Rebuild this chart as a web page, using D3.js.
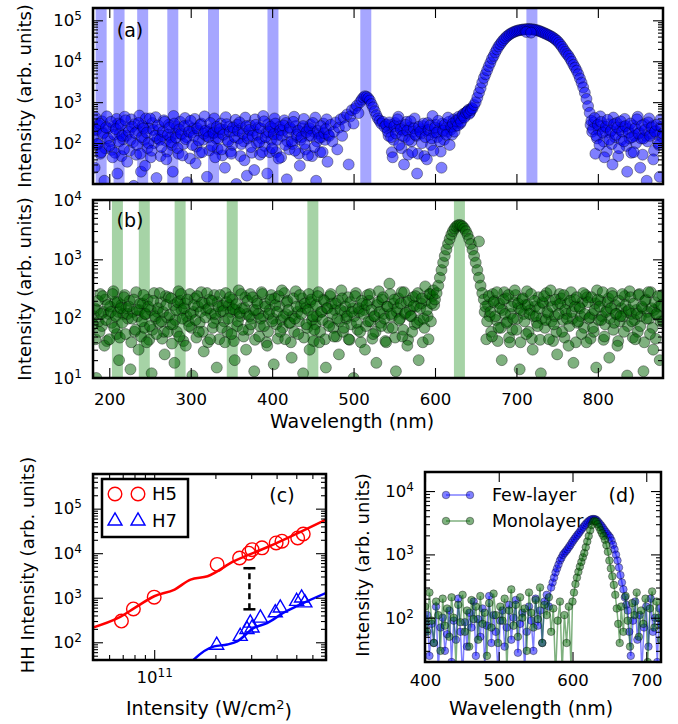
<!DOCTYPE html>
<html>
<head>
<meta charset="utf-8">
<script src="https://cdn.jsdelivr.net/npm/d3@7"></script>
<style>
body { margin: 0; background: #fff; }
</style>
</head>
<body>
<script>
// ---- data ----
// (a) harmonic positions of the 3.6 um driver, (b) of the 3.15 um driver (nm)
var bandsA = [190, 212, 241, 278, 328, 401, 515, 719];
var bandsB = [210, 243, 287, 351, 450, 630];
var bandWidth = 13.5;

// (a) few-layer spectrum [wavelength nm, counts]
var spectrumA = [
[180,140],[182,25],[184,210],[186,95],[188,300],[190,60],[192,170],[194,12],[196,240],[198,130],
[200,85],[202,330],[204,45],[206,160],[208,220],[210,18],[212,110],[214,280],[216,150],[218,70],
[220,360],[222,35],[224,190],[226,120],[228,250],[230,9],[232,175],[234,90],[236,310],[238,55],
[240,140],[242,230],[244,28],[246,180],[248,100],[250,400],[252,65],[254,210],[256,150],[258,14],
[260,270],[262,120],[264,80],[266,190],[268,330],[270,40],[272,160],[274,240],[276,105],[278,20],
[280,300],[282,135],[284,75],[286,215],[288,170],[290,50],[292,260],[294,125],[296,11],[298,190],
[300,350],[302,90],[304,150],[306,32],[308,230],[310,115],[312,280],[314,60],[316,170],[318,200],
[320,15],[322,140],[324,310],[326,85],[328,180],[330,45],[332,250],[334,130],[336,220],[338,70],
[340,160],[342,25],[344,290],[346,110],[348,190],[350,55],[352,240],[354,140],[356,10],[358,200],
[360,320],[362,95],[364,170],[366,38],[368,260],[370,130],[372,210],[374,80],[376,150],[378,22],
[380,280],[382,160],[384,105],[386,230],[388,60],[390,340],[392,140],[394,18],[396,190],[398,250],
[400,75],[402,165],[404,300],[406,120],[408,42],[410,210],[412,150],[414,270],[416,90],[418,13],
[420,180],[422,240],[424,110],[426,330],[428,65],[430,160],[432,200],[434,28],[436,140],[438,260],
[440,95],[442,185],[444,50],[446,230],[448,150],[450,310],[452,80],[454,12],[456,200],[458,135],
[460,260],[462,60],[464,175],[466,220],[468,35],[470,150],[472,280],[474,110],[476,190],[478,320],
[480,70],[482,240],[484,380],[486,150],[488,420],[490,260],[492,500],[494,30],[496,450],[498,640],
[500,300],[502,700],[504,820],[506,540],[508,1000],[510,1150],[512,1300],[514,1400],[516,1350],[518,1250],
[520,1100],[522,900],[524,750],[526,600],[528,480],[530,400],[532,350],[534,300],[536,330],[538,250],
[540,280],[542,190],[544,320],[546,140],[548,45],[550,260],[552,170],[554,380],[556,90],[558,220],
[560,150],[562,30],[564,280],[566,200],[568,120],[570,340],[572,60],[574,230],[576,160],[578,18],
[580,250],[582,190],[584,100],[586,300],[588,140],[590,40],[592,210],[594,270],[596,130],[598,65],
[600,240],[602,180],[604,350],[606,110],[608,25],[610,200],[612,280],[614,160],[616,420],[618,90],
[620,250],[622,300],[624,190],[626,350],[628,270],[630,400],[632,330],[634,480],[636,420],[638,550],
[640,600],[642,520],[644,640],[646,700],[648,850],[650,1000],[652,1300],[654,1700],[656,2200],[658,3000],
[660,3900],[662,4800],[664,6000],[666,7500],[668,9200],[670,11500],[672,13500],[674,16500],[676,19500],[678,23000],
[680,26000],[682,29500],[684,33000],[686,36500],[688,40000],[690,43000],[692,46000],[694,48500],[696,51000],[698,53000],
[700,55000],[702,56500],[704,57500],[706,58500],[708,59500],[710,60000],[712,60500],[714,61000],[716,61000],[718,60500],
[720,60000],[722,59000],[724,58000],[726,56500],[728,55000],[730,53000],[732,51000],[734,49000],[736,47000],[738,45000],
[740,43000],[742,41000],[744,39000],[746,36500],[748,34000],[750,31500],[752,28500],[754,25500],[756,22500],[758,19500],
[760,17000],[762,15000],[764,13500],[766,11500],[768,9800],[770,8200],[772,7000],[774,5900],[776,4800],[778,3800],
[780,3000],[782,2300],[784,1700],[786,1200],[788,800],[790,550],[712,52000],[718,50000],
[792,350],[794,220],[796,410],[798,150],[800,280],[802,90],[804,330],[806,180],[808,45],[810,250],
[812,370],[814,120],[816,200],[818,30],[820,290],[822,160],[824,240],[826,75],[828,340],[830,190],
[832,110],[834,260],[836,20],[838,180],[840,300],[842,140],[844,60],[846,230],[848,380],[850,170],
[852,25],[854,270],[856,130],[858,210],[860,12],[862,320],[864,150],[866,240],[868,40],[870,190],
[872,280],[874,100],[876,15],[878,250],[880,170]
];
// (a) the pixels in between
var spectrumAOdd = [
[181,210],[183,420],[185,95],[187,270],[189,55],[191,340],[193,180],[195,75],[197,450],[199,230],
[201,110],[203,68],[205,260],[207,58],[209,390],[211,300],[213,170],[215,48],[217,125],[219,440],
[221,150],[223,240],[225,65],[227,380],[229,105],[231,290],[233,52],[235,200],[237,470],[239,20],
[241,260],[243,120],[245,400],[247,75],[249,230],[251,45],[253,310],[255,100],[257,430],[259,130],
[261,210],[263,48],[265,150],[267,360],[269,115],[271,62],[273,280],[275,140],[277,90],[279,460],
[281,170],[283,250],[285,55],[287,330],[289,160],[291,95],[293,410],[295,140],[297,270],[299,42],
[301,180],[303,230],[305,390],[307,82],[309,200],[311,58],[313,300],[315,120],[317,450],[319,150],
[321,190],[323,66],[325,220],[327,170],[329,400],[331,130],[333,72],[335,180],[337,300],[339,50],
[341,210],[343,430],[345,120],[347,250],[349,62],[351,90],[353,200],[355,370],[357,280],[359,130],
[361,48],[363,230],[365,110],[367,420],[369,16],[371,150],[373,270],[375,58],[377,200],[379,380],
[381,100],[383,240],[385,52],[387,130],[389,460],[391,85],[393,180],[395,290],[397,60],[399,120],
[401,230],[403,400],[405,60],[407,160],[409,250],[411,45],[413,200],[415,360],[417,310],[419,110],
[421,70],[423,220],[425,95],[427,440],[429,260],[431,140],[433,55],[435,120],[437,230],[439,390],
[441,70],[443,210],[445,150],[447,280],[449,48],[451,190],[453,420],[455,110],[457,170],[459,60],
[461,140],[463,300],[465,120],[467,380],[469,160],
[541,230],[543,150],[545,280],[547,60],[549,120],[551,310],[553,210],[555,440],[557,260],[559,75],
[561,200],[563,140],[565,330],[567,52],[569,240],[571,110],[573,190],[575,400],[577,150],[579,55],
[581,220],[583,170],[585,260],[587,48],[589,200],[591,310],[593,160],[595,90],[597,460],[599,180],
[601,280],[603,140],[605,220],[607,62],[609,300],[611,120],[613,230],[615,190],[617,330],[619,210],
[621,160],[623,380],[625,260],[627,320],[629,440],[631,300],[633,420],[635,520],[637,460],[639,580],
[641,650],[643,560],[645,720],
[791,280],[793,190],[795,320],[797,55],[799,130],[801,210],[803,450],[805,260],[807,110],[809,200],
[811,62],[813,290],[815,180],[817,95],[819,420],[821,140],[823,310],[825,48],[827,210],[829,120],
[831,250],[833,390],[835,85],[837,220],[839,130],[841,58],[843,270],[845,150],[847,100],[849,440],
[851,180],[853,130],[855,52],[857,290],[859,150],[861,110],[863,400],[865,170],[867,260],[869,65],
[871,200],[873,160],[875,90],[877,380],[879,140]
];

// (b) monolayer spectrum [wavelength nm, counts]
var spectrumB = [
[180,80],[182,150],[184,10],[186,200],[188,60],[190,120],[192,240],[194,35],[196,95],[198,170],
[200,45],[202,130],[204,260],[206,70],[208,110],[210,190],[212,20],[214,150],[216,85],[218,230],
[220,55],[222,120],[224,160],[226,14],[228,100],[230,210],[232,65],[234,140],[236,30],[238,180],
[240,90],[242,250],[244,120],[246,40],[248,160],[250,75],[252,12],[254,200],[256,110],[258,55],
[260,150],[262,270],[264,90],[266,130],[268,25],[270,170],[272,60],[274,115],[276,220],[278,80],
[280,18],[282,140],[284,190],[286,50],[288,260],[290,100],[292,150],[294,35],[296,210],[298,75],
[300,120],[302,11],[304,170],[306,95],[308,240],[310,60],[312,130],[314,185],[316,28],[318,105],
[320,270],[322,150],[324,45],[326,200],[328,85],[330,120],[332,15],[334,160],[336,250],[338,70],
[340,135],[342,40],[344,190],[346,100],[348,230],[350,55],[352,145],[354,20],[356,175],[358,90],
[360,125],[362,260],[364,65],[366,150],[368,30],[370,200],[372,110],[374,80],[376,230],[378,13],
[380,140],[382,180],[384,50],[386,100],[388,260],[390,75],[392,160],[394,35],[396,120],[398,210],
[400,90],[402,17],[404,170],[406,130],[408,240],[410,60],[412,300],[414,110],[416,45],[418,190],
[420,140],[422,85],[424,22],[426,220],[428,100],[430,160],[432,55],[434,250],[436,120],[438,12],
[440,180],[442,80],[444,140],[446,30],[448,210],[450,110],[452,65],[454,170],[456,240],[458,40],
[460,130],[462,95],[464,200],[466,15],[468,150],[470,75],[472,260],[474,120],[476,50],[478,180],
[480,100],[482,25],[484,140],[486,220],[488,70],[490,160],[492,110],[494,45],[496,190],[498,130],
[500,10],[502,240],[504,85],[506,150],[508,60],[510,200],[512,120],[514,30],[516,170],[518,90],
[520,260],[522,140],[524,55],[526,110],[528,18],[530,190],[532,130],[534,75],[536,230],[538,100],
[540,40],[542,160],[544,390],[546,120],[548,70],[550,210],[552,13],[554,150],[556,95],[558,180],
[560,50],[562,280],[564,125],[566,35],[568,200],[570,110],[572,60],[574,165],[576,240],[578,85],
[580,20],[582,150],[584,220],[586,100],[588,350],[590,140],[592,45],[594,260],[596,180],[598,300],
[600,210],[602,270],[604,360],[606,490],[608,660],[610,880],[612,1140],[614,1460],[616,1820],[618,2200],
[620,2600],[622,2980],[624,3300],[626,3580],[628,3740],[630,3800],[632,3740],[634,3580],[636,3300],[638,2980],
[640,2600],[642,2200],[644,1820],[646,1460],[648,1140],[650,880],[652,660],[654,490],[656,360],[658,270],
[660,210],[654,2000],
[662,160],[664,90],[666,240],[668,130],[670,50],[672,190],[674,110],[676,280],[678,70],[680,150],
[682,20],[684,210],[686,120],[688,85],[690,250],[692,40],[694,160],[696,100],[698,300],[700,65],
[702,180],[704,14],[706,140],[708,220],[710,90],[712,55],[714,170],[716,120],[718,260],[720,30],
[722,200],[724,110],[726,75],[728,150],[730,12],[732,190],[734,240],[736,95],[738,130],[740,45],
[742,300],[744,160],[746,80],[748,210],[750,25],[752,120],[754,180],[756,60],[758,250],[760,140],
[762,100],[764,35],[766,200],[768,130],[770,18],[772,160],[774,230],[776,90],[778,150],[780,55],
[782,270],[784,120],[786,40],[788,190],[790,105],[792,230],[794,70],[796,140],[798,15],[800,210],
[802,160],[804,95],[806,280],[808,50],[810,130],[812,190],[814,22],[816,150],[818,240],[820,85],
[822,120],[824,35],[826,200],[828,110],[830,260],[832,60],[834,170],[836,11],[838,140],[840,230],
[842,90],[844,180],[846,45],[848,120],[850,250],[852,75],[854,160],[856,13],[858,200],[860,100],
[862,280],[864,55],[866,150],[868,30],[870,190],[872,120],[874,240],[876,20],[878,170],[880,90]
];
// (b) the pixels in between
var spectrumBOdd = [
[181,110],[183,45],[185,140],[187,90],[189,260],[191,75],[193,130],[195,210],[197,42],[199,120],
[201,160],[203,85],[205,290],[207,190],[209,55],[211,130],[213,48],[215,170],[217,120],[219,250],
[221,150],[223,100],[225,200],[227,40],[229,130],[231,60],[233,280],[235,110],[237,140],[239,50],
[241,180],[243,70],[245,120],[247,210],[249,44],[251,140],[253,65],[255,270],[257,100],[259,130],
[261,85],[263,190],[265,46],[267,60],[269,240],[271,105],[273,230],[275,80],[277,38],[279,170],
[281,95],[283,60],[285,290],[287,200],[289,140],[291,42],[293,180],[295,110],[297,90],[299,260],
[301,70],[303,130],[305,220],[307,48],[309,160],[311,85],[313,280],[315,60],[317,180],[319,140],
[321,40],[323,210],[325,120],[327,70],[329,250],[331,100],[333,190],[335,45],[337,130],[339,165],
[341,90],[343,270],[345,60],[347,170],[349,130],[351,210],[353,42],[355,140],[357,75],[359,300],
[361,110],[363,150],[365,50],[367,230],[369,120],[371,65],[373,260],[375,100],[377,140],[379,44],
[381,200],[383,120],[385,75],[387,280],[389,110],[391,180],[393,40],[395,60],[397,140],[399,250],
[401,100],[403,220],[405,80],[407,46],[409,160],[411,95],[413,70],[415,270],[417,120],[419,200],
[421,85],[423,40],[425,110],[427,60],[429,290],[431,130],[433,90],[435,160],[437,220],[439,48],
[441,150],[443,70],[445,260],[447,190],[449,95],[451,42],[453,80],[455,110],[457,280],[459,60],
[461,130],[463,210],[465,45],[467,150],[469,85],[471,240],[473,180],[475,70],[477,140],[479,50],
[481,200],[483,90],[485,300],[487,60],[489,130],[491,100],[493,230],[495,44],[497,80],[499,150],
[501,110],[503,270],[505,65],[507,130],[509,40],[511,180],[513,140],[515,75],[517,250],[519,200],
[521,90],[523,46],[525,110],[527,60],[529,170],[531,290],[533,85],[535,210],[537,120],[539,42],
[541,160],[543,70],[545,260],[547,110],[549,180],[551,48],[553,130],[555,220],[557,100],[559,280],
[561,65],[563,120],[565,190],[567,44],[569,140],[571,110],[573,230],[575,80],[577,160],[579,270],
[581,95],[583,180],[585,40],[587,70],[589,200],[591,110],[593,260],[595,90],[597,240],[599,170],
[661,130],[663,45],[665,170],[667,110],[669,60],[671,260],[673,200],[675,95],[677,42],[679,180],
[681,70],[683,140],[685,280],[687,220],[689,90],[691,48],[693,120],[695,65],[697,190],[699,250],
[701,100],[703,150],[705,40],[707,210],[709,120],[711,170],[713,290],[715,60],[717,140],[719,46],
[721,110],[723,160],[725,85],[727,230],[729,44],[731,100],[733,180],[735,70],[737,270],[739,120],
[741,200],[743,90],[745,42],[747,110],[749,60],[751,170],[753,260],[755,220],[757,95],[759,48],
[761,120],[763,180],[765,75],[767,280],[769,100],[771,210],[773,40],[775,85],[777,160],[779,110],
[781,190],[783,70],[785,250],[787,230],[789,100],[791,46],[793,120],[795,60],[797,180],[799,300],
[801,95],[803,200],[805,110],[807,44],[809,80],[811,140],[813,220],[815,100],[817,270],[819,65],
[821,170],[823,120],[825,42],[827,90],[829,150],[831,110],[833,240],[835,130],[837,75],[839,290],
[841,120],[843,48],[845,95],[847,140],[849,60],[851,260],[853,110],[855,150],[857,40],[859,210],
[861,130],[863,100],[865,280],[867,70],[869,140],[871,46],[873,115],[875,160],[877,90],[879,250]
];

// (c) harmonic yield vs driving intensity [W/cm^2, counts]
var h5Points = [[6.9e10,300],[7.9e10,560],[1.0e11,1030],[2.04e11,5600],[2.63e11,7800],[2.92e11,10000],
  [3.03e11,12000],[3.39e11,13200],[3.98e11,17000],[4.25e11,18600],[5.08e11,22000],[5.41e11,27000]];
var h7Points = [[2.03e11,86],[2.65e11,136],[2.86e11,194],[2.97e11,270],[3.03e11,210],[3.33e11,350],
  [3.94e11,460],[4.17e11,590],[5.02e11,830],[5.31e11,990],[5.51e11,770]];
var h5Fit = [[5e10,215],[6.65e10,352],[8.02e10,590],[1.0e11,1080],[1.26e11,1530],[1.51e11,2560],
  [1.83e11,3040],[2.47e11,6610],[3.59e11,13600],[7e11,57000]];
var h7Fit = [[1.45e11,28],[1.55e11,39],[1.97e11,81],[2.29e11,89],[2.56e11,105],[3.09e11,210],
  [3.59e11,270],[4.33e11,460],[5.21e11,700],[7.03e11,1290]];
var gapBar = [2.94e11, 550, 4600];   // x, low, high

// (d) comparison [wavelength nm, counts]
var fewLayer = [
[400,60],[403,110],[406,25],[409,80],[412,40],[415,150],[418,15],[421,70],[424,100],[427,30],
[430,55],[433,130],[436,20],[439,90],[442,45],[445,200],[448,60],[451,12],[454,85],[457,35],
[460,120],[463,70],[466,180],[469,25],[472,95],[475,50],[478,140],[481,18],[484,75],[487,220],
[490,40],[493,110],[496,60],[499,14],[502,90],[505,130],[508,35],[511,70],[514,160],[517,45],
[520,100],[523,190],[526,28],[529,80],[532,120],[535,16],[538,60],[541,150],[544,90],[547,30],
[550,200],[553,75],[556,130],[559,40],[562,180],[565,230],[568,150],[571,300],[573,360],[575,430],
[577,520],[579,600],[581,690],[583,800],[585,880],[587,980],[589,1050],[591,1120],[593,1200],[595,1300],
[597,1400],[599,1530],[601,1650],[603,1780],[605,1920],[607,2050],[609,2200],[611,2380],[613,2550],[615,2730],
[617,2920],[619,3100],[621,3280],[623,3420],[625,3550],[627,3600],[629,3620],[631,3570],[633,3450],[635,3250],
[637,3050],[639,2850],[641,2650],[643,2450],[645,2280],[647,2120],[649,1980],[651,1850],[653,1650],[655,1420],
[657,1200],[659,990],[661,800],[663,620],[665,470],[667,360],[669,280],[671,210],[673,160],[675,130],
[677,60],[679,25],[682,90],[685,180],[688,45],[691,110],[694,15],[697,70],[700,150],[703,35],
[706,200],[709,60],[712,100],[715,20],[718,140],[720,80]
];
var monolayer = [
[400,150],[403,60],[406,250],[409,90],[412,40],[415,180],[418,110],[421,30],[424,200],[427,75],
[430,140],[433,50],[436,210],[439,100],[442,18],[445,160],[448,85],[451,230],[454,60],[457,130],
[460,35],[463,190],[466,95],[469,150],[472,45],[475,220],[478,80],[481,120],[484,25],[487,170],
[490,70],[493,240],[496,110],[499,40],[502,150],[505,90],[508,200],[511,15],[514,130],[517,280],
[520,75],[523,160],[526,50],[529,210],[532,100],[535,140],[538,30],[541,250],[544,120],[547,70],
[550,190],[553,95],[556,300],[559,40],[562,160],[565,110],[568,210],[571,60],[574,140],[577,12],
[580,90],[583,180],[586,14],[589,110],[592,40],[595,150],[598,16],[600,180],[602,250],[604,340],
[606,430],[608,530],[610,640],[612,760],[614,900],[616,1050],[618,1300],[620,1600],[622,1950],[624,2400],
[626,2900],[628,3300],[630,3400],[632,3300],[634,3000],[636,2700],[638,2400],[640,2150],[642,1950],[644,1700],
[646,1400],[648,1100],[650,800],[652,600],[654,450],[656,330],[658,230],[660,140],[662,80],[664,40],
[666,150],[669,60],[672,220],[675,90],[678,35],[681,170],[684,110],[687,250],[690,50],[693,130],
[696,80],[699,200],[702,20],[705,140],[708,260],[711,70],[714,180],[717,100],[720,45]
];

var ticksWave = [200, 300, 400, 500, 600, 700, 800];
var ticksWaveD = [400, 500, 600, 700];

// ---- drawing ----
var w = 678, h = 724;
var tickFont = 16.5, labelFont = 19;

var svg = d3.select("body").append("svg")
    .attr("width", w)
    .attr("height", h)
    .style("font-family", "'DejaVu Sans', sans-serif");

var boxA = {l: 93, r: 663, t: 8, b: 184};
var boxB = {l: 93, r: 663, t: 200, b: 378};
var boxC = {l: 93, r: 326, t: 474, b: 660};
var boxD = {l: 425, r: 661, t: 472, b: 662};

var xA = d3.scaleLinear().domain([180, 880]).range([boxA.l, boxA.r]);
var yA = d3.scaleLog().domain([10, 2e5]).range([boxA.b, boxA.t]);
var xB = d3.scaleLinear().domain([180, 880]).range([boxB.l, boxB.r]);
var yB = d3.scaleLog().domain([10, 1e4]).range([boxB.b, boxB.t]);
var xC = d3.scaleLog().domain([5e10, 7e11]).range([boxC.l, boxC.r]);
var yC = d3.scaleLog().domain([40, 6e5]).range([boxC.b, boxC.t]);
var xD = d3.scaleLinear().domain([400, 720]).range([boxD.l, boxD.r]);
var yD = d3.scaleLog().domain([20, 2e4]).range([boxD.b, boxD.t]);

function plotArea(id, box) {
    svg.append("clipPath").attr("id", "clip-" + id)
        .append("rect")
        .attr("x", box.l).attr("y", box.t)
        .attr("width", box.r - box.l).attr("height", box.b - box.t);
    return svg.append("g").attr("clip-path", "url(#clip-" + id + ")");
}

function isPow10(d) {
    var e = Math.log10(d);
    return Math.abs(e - Math.round(e)) < 1e-6;
}

function powLabels(a) {
    a.selectAll(".tick text").each(function(d) {
        var t = d3.select(this).text(null);
        t.append("tspan").text("10");
        t.append("tspan").attr("dy", "-0.5em").attr("font-size", 12).text(Math.round(Math.log10(d)));
    });
}

function drawAxes(box, xs, ys, o) {
    var g = svg.append("g");

    function put(axis, tx, ty) {
        var a = g.append("g")
            .attr("transform", "translate(" + tx + "," + ty + ")")
            .call(axis);
        a.select(".domain").remove();
        a.attr("font-size", tickFont).attr("font-family", null);
        a.selectAll(".tick line").attr("stroke", "#000").attr("stroke-width", 1.1);
        a.selectAll(".tick text").attr("fill", "#000");
        return a;
    }

    var xMajor = o.xLog ? xs.ticks().filter(isPow10) : o.xTicks;
    var xMinor = o.xLog ? xs.ticks().filter(function(d) { return !isPow10(d); }) : [];
    var yMajor = ys.ticks().filter(isPow10);
    var yMinor = ys.ticks().filter(function(d) { return !isPow10(d); });

    // bottom / top
    var bx = put(d3.axisBottom(xs).tickValues(xMajor).tickSizeInner(-10).tickSizeOuter(0)
        .tickPadding(o.xPad || 14)
        .tickFormat(o.xLabels ? (o.xLog ? "" : d3.format("d")) : ""), 0, box.b);
    if (o.xLabels && o.xLog) powLabels(bx);
    put(d3.axisTop(xs).tickValues(xMajor).tickSizeInner(-10).tickSizeOuter(0).tickFormat(""), 0, box.t);
    if (xMinor.length) {
        put(d3.axisBottom(xs).tickValues(xMinor).tickSizeInner(-5).tickSizeOuter(0).tickFormat(""), 0, box.b);
        put(d3.axisTop(xs).tickValues(xMinor).tickSizeInner(-5).tickSizeOuter(0).tickFormat(""), 0, box.t);
    }

    // left / right
    put(d3.axisLeft(ys).tickValues(yMajor).tickSizeInner(-10).tickSizeOuter(0).tickFormat(""), box.l, 0);
    put(d3.axisRight(ys).tickValues(yMajor).tickSizeInner(-10).tickSizeOuter(0).tickFormat(""), box.r, 0);
    put(d3.axisLeft(ys).tickValues(yMinor).tickSizeInner(-5).tickSizeOuter(0).tickFormat(""), box.l, 0);
    put(d3.axisRight(ys).tickValues(yMinor).tickSizeInner(-5).tickSizeOuter(0).tickFormat(""), box.r, 0);

    var yl = put(d3.axisLeft(ys).tickValues(yMajor.filter(function(d) { return d >= o.yLabelMin; }))
        .tickSize(0).tickPadding(11).tickFormat(""), box.l, 0);
    powLabels(yl);

    g.append("rect")
        .attr("x", box.l).attr("y", box.t)
        .attr("width", box.r - box.l).attr("height", box.b - box.t)
        .attr("fill", "none").attr("stroke", "#000").attr("stroke-width", 2.5);

    g.append("text")
        .attr("x", o.tagX).attr("y", o.tagY)
        .attr("text-anchor", "middle")
        .attr("font-size", labelFont)
        .text(o.tag);
}

function yLabel(text, x, y) {
    svg.append("text")
        .attr("transform", "translate(" + x + "," + y + ") rotate(-90)")
        .attr("text-anchor", "middle")
        .attr("dy", "0.3em")
        .attr("font-size", 18)
        .text(text);
}

function scatter(plot, data, xs, ys, color, r) {
    plot.selectAll(null)
        .data(data)
        .enter()
        .append("circle")
        .attr("cx", function(d) { return xs(d[0]); })
        .attr("cy", function(d) { return ys(d[1]); })
        .attr("r", r)
        .attr("fill", color)
        .attr("fill-opacity", 0.5)
        .attr("stroke", "#000")
        .attr("stroke-opacity", 0.45)
        .attr("stroke-width", 0.8);
}

function bands(plot, centers, xs, box, color) {
    plot.selectAll(null)
        .data(centers)
        .enter()
        .append("rect")
        .attr("x", function(d) { return xs(d - bandWidth / 2); })
        .attr("width", function(d) { return xs(d + bandWidth / 2) - xs(d - bandWidth / 2); })
        .attr("y", box.t)
        .attr("height", box.b - box.t)
        .attr("fill", color)
        .attr("fill-opacity", 0.35);
}

// PANEL A
var pA = plotArea("a", boxA);
bands(pA, bandsA, xA, boxA, "#0000ff");
scatter(pA, spectrumAOdd, xA, yA, "#0000ff", 5.5);
scatter(pA, spectrumA, xA, yA, "#0000ff", 5.5);
drawAxes(boxA, xA, yA, {xTicks: ticksWave, xLabels: false, yLabelMin: 100, tag: "(a)", tagX: 130, tagY: 37});
yLabel("Intensity (arb. units)", 26, 96);

// PANEL B
var pB = plotArea("b", boxB);
bands(pB, bandsB, xB, boxB, "#008000");
scatter(pB, spectrumBOdd, xB, yB, "#006400", 5.5);
scatter(pB, spectrumB, xB, yB, "#006400", 5.5);
drawAxes(boxB, xB, yB, {xTicks: ticksWave, xLabels: true, xPad: 15, yLabelMin: 10, tag: "(b)", tagX: 130, tagY: 227});
yLabel("Intensity (arb. units)", 26, 289);
svg.append("text").attr("x", 352).attr("y", 428).attr("text-anchor", "middle")
    .attr("font-size", labelFont).text("Wavelength (nm)");

// PANEL C
var pC = plotArea("c", boxC);
var fitLine = d3.line()
    .x(function(d) { return xC(d[0]); })
    .y(function(d) { return yC(d[1]); })
    .curve(d3.curveMonotoneX);
pC.append("path").datum(h5Fit).attr("d", fitLine)
    .attr("fill", "none").attr("stroke", "#ff0000").attr("stroke-width", 2.5);
pC.append("path").datum(h7Fit).attr("d", fitLine)
    .attr("fill", "none").attr("stroke", "#0000ff").attr("stroke-width", 2.5);
pC.selectAll(null).data(h5Points).enter().append("circle")
    .attr("cx", function(d) { return xC(d[0]); })
    .attr("cy", function(d) { return yC(d[1]); })
    .attr("r", 6.8)
    .attr("fill", "none").attr("stroke", "#ff0000").attr("stroke-width", 1.4);
var tri = d3.symbol().type(d3.symbolTriangle).size(85);
pC.selectAll(null).data(h7Points).enter().append("path")
    .attr("transform", function(d) { return "translate(" + xC(d[0]) + "," + yC(d[1]) + ")"; })
    .attr("d", tri)
    .attr("fill", "none").attr("stroke", "#0000ff").attr("stroke-width", 1.4);
// gap between H5 and H7
var gx = xC(gapBar[0]);
pC.append("line").attr("x1", gx).attr("x2", gx).attr("y1", yC(gapBar[1])).attr("y2", yC(gapBar[2]))
    .attr("stroke", "#000").attr("stroke-width", 2.5).attr("stroke-dasharray", "6,4");
pC.selectAll(null).data([gapBar[1], gapBar[2]]).enter().append("line")
    .attr("x1", gx - 6).attr("x2", gx + 6)
    .attr("y1", function(d) { return yC(d); }).attr("y2", function(d) { return yC(d); })
    .attr("stroke", "#000").attr("stroke-width", 2.5);
drawAxes(boxC, xC, yC, {xLog: true, xLabels: true, xPad: 11, yLabelMin: 100, tag: "(c)", tagX: 282, tagY: 502});
yLabel("HH Intensity (arb. units)", 29, 565);
svg.append("text").attr("x", 209).attr("y", 715).attr("text-anchor", "middle")
    .attr("font-size", labelFont)
    .call(function(t) {
        t.append("tspan").text("Intensity (W/cm");
        t.append("tspan").attr("dy", "-0.45em").attr("font-size", 13).text("2");
        t.append("tspan").attr("dy", "0.45em").text(")");
    });

// legend (c)
var legC = svg.append("g");
legC.append("rect").attr("x", 102).attr("y", 479).attr("width", 86).attr("height", 58)
    .attr("fill", "#fff").attr("stroke", "#000").attr("stroke-width", 2.5);
legC.selectAll(null).data([115, 138]).enter().append("circle")
    .attr("cx", function(d) { return d; }).attr("cy", 494).attr("r", 6.8)
    .attr("fill", "none").attr("stroke", "#ff0000").attr("stroke-width", 1.4);
legC.selectAll(null).data([115, 138]).enter().append("path")
    .attr("transform", function(d) { return "translate(" + d + ",521)"; })
    .attr("d", tri)
    .attr("fill", "none").attr("stroke", "#0000ff").attr("stroke-width", 1.4);
legC.append("text").attr("x", 152).attr("y", 500).attr("font-size", 18).text("H5");
legC.append("text").attr("x", 152).attr("y", 527).attr("font-size", 18).text("H7");

// PANEL D
var pD = plotArea("d", boxD);
var specLine = d3.line()
    .x(function(d) { return xD(d[0]); })
    .y(function(d) { return yD(d[1]); });
[[fewLayer, "#0000ff"], [monolayer, "#006400"]].forEach(function(s) {
    pD.append("path").datum(s[0]).attr("d", specLine)
        .attr("fill", "none").attr("stroke", s[1]).attr("stroke-opacity", 0.5).attr("stroke-width", 1.5);
    scatter(pD, s[0], xD, yD, s[1], 3.8);
});
drawAxes(boxD, xD, yD, {xTicks: ticksWaveD, xLabels: true, xPad: 12, yLabelMin: 100, tag: "(d)", tagX: 622, tagY: 502});
yLabel("Intensity (arb. units)", 364, 565);
svg.append("text").attr("x", 531).attr("y", 715).attr("text-anchor", "middle")
    .attr("font-size", labelFont).text("Wavelength (nm)");

// legend (d)
var legD = svg.append("g");
[["Few-layer", "#0000ff", 495], ["Monolayer", "#006400", 521]].forEach(function(e) {
    legD.append("line").attr("x1", 446).attr("x2", 470).attr("y1", e[2]).attr("y2", e[2])
        .attr("stroke", e[1]).attr("stroke-opacity", 0.5).attr("stroke-width", 1.5);
    legD.selectAll(null).data([446, 470]).enter().append("circle")
        .attr("cx", function(d) { return d; }).attr("cy", e[2]).attr("r", 3.8)
        .attr("fill", e[1]).attr("fill-opacity", 0.5)
        .attr("stroke", "#000").attr("stroke-opacity", 0.45).attr("stroke-width", 0.8);
    legD.append("text").attr("x", 492).attr("y", e[2] + 6).attr("font-size", 17.5).text(e[0]);
});
</script>
</body>
</html>
